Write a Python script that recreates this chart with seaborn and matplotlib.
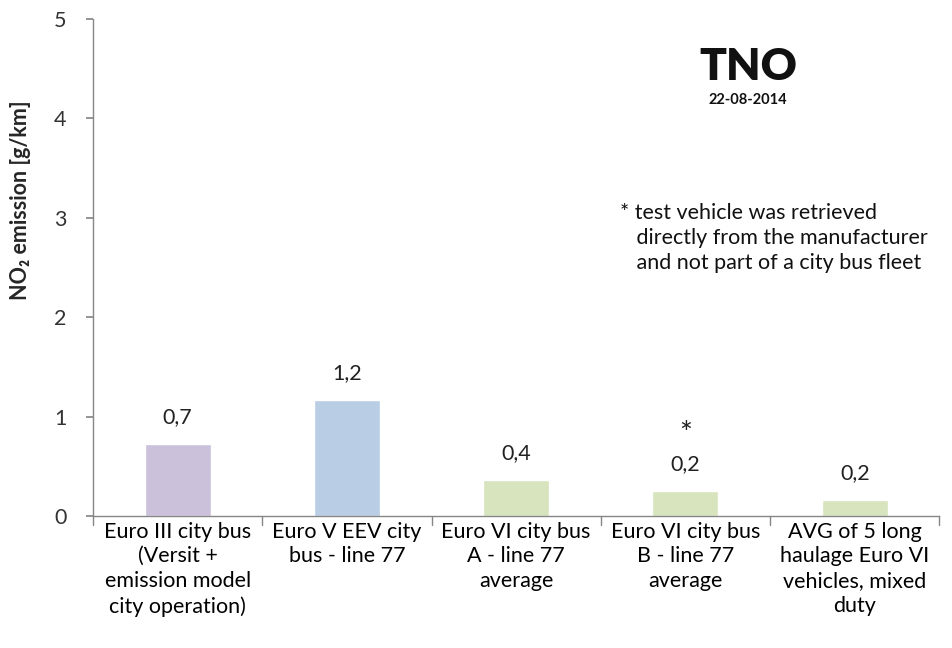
import matplotlib
matplotlib.use("Agg")
import matplotlib.pyplot as plt
import pandas as pd
import seaborn as sns

categories = [
    "Euro III city bus\n(Versit +\nemission model\ncity operation)",
    "Euro V EEV city\nbus - line 77",
    "Euro VI city bus\nA - line 77\naverage",
    "Euro VI city bus\nB - line 77\naverage",
    "AVG of 5 long\nhaulage Euro VI\nvehicles, mixed\nduty",
]
values = [0.72, 1.17, 0.36, 0.25, 0.16]
value_labels = ["0,7", "1,2", "0,4", "0,2", "0,2"]
bar_colors = ["#CCC1DA", "#B9CDE5", "#D7E4BD", "#D7E4BD", "#D7E4BD"]
y_ticks = [0, 1, 2, 3, 4, 5]

sns.set_theme(style="white")
plt.rcParams["font.family"] = ["Lato", "DejaVu Sans"]

df = pd.DataFrame({"category": categories, "value": values})

fig = plt.figure(figsize=(9.52, 6.48), dpi=100)
ax = fig.add_axes([0.0977, 0.2037, 0.889, 0.767])

sns.barplot(data=df, x="category", y="value", hue="category",
            palette=bar_colors, legend=False, width=0.39, ax=ax,
            saturation=1)

ax.set_ylim(0, 5)
ax.set_xlim(-0.5, 4.5)
ax.set_yticks(y_ticks)
ax.set_yticklabels([str(t) for t in y_ticks], fontsize=15.5, color="#333333")
ax.set_xticks([i for i in range(len(categories))])
ax.set_xticklabels(categories, fontsize=15.5, color="black", linespacing=1.3)
ax.tick_params(axis="x", length=0, pad=4)
ax.tick_params(axis="y", length=5, left=True, color="#868686", pad=14)

# category boundary ticks on x axis
for b in [-0.5, 0.5, 1.5, 2.5, 3.5, 4.5]:
    ax.plot([b, b], [0, -0.09], color="#868686", lw=1, clip_on=False)

for side in ["top", "right"]:
    ax.spines[side].set_visible(False)
for side in ["left", "bottom"]:
    ax.spines[side].set_color("#868686")
    ax.spines[side].set_linewidth(1)

ax.set_xlabel("")
ax.set_ylabel("NO₂ emission [g/km]", fontsize=15.5, fontweight="bold")
ax.yaxis.set_label_coords(-0.073, 0.636)

for i, (v, lab) in enumerate(zip(values, value_labels)):
    ax.text(i, v + 0.17, lab, ha="center", va="bottom", fontsize=15.5, color="#222222")
ax.text(3, values[3] + 0.43, "*", ha="center", va="bottom", fontsize=22, color="#222222")

fig.text(0.786, 0.896, "TNO", ha="center", va="center", fontsize=32,
         fontweight="heavy", color="#111111")
fig.text(0.786, 0.846, "22-08-2014", ha="center", va="center", fontsize=10.5,
         fontweight="bold", color="#111111")

fig.text(0.651, 0.633, "* test vehicle was retrieved\n   directly from the manufacturer\n   and not part of a city bus fleet",
         ha="left", va="center", fontsize=15.5, color="#111111", linespacing=1.3)

fig.savefig("out.png", dpi=100)
